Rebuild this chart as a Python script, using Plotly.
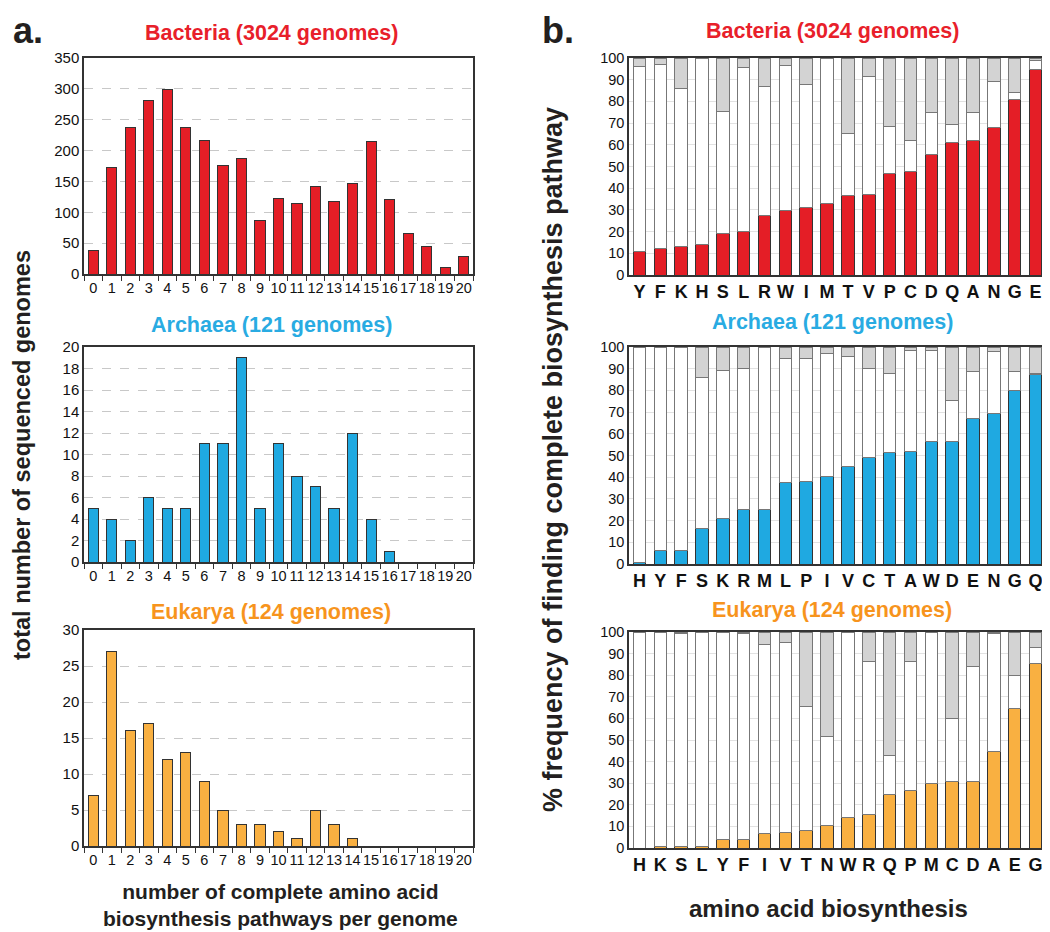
import plotly.graph_objects as go

# ---------------- data ----------------
n_pathways = [str(i) for i in range(21)]
bac_counts = [38, 172, 238, 281, 299, 238, 217, 176, 187, 87, 123, 115, 142, 118, 146, 214, 121, 66, 45, 10, 29]
arc_counts = [5, 4, 2, 6, 5, 5, 11, 11, 19, 5, 11, 8, 7, 5, 12, 4, 1, 0, 0, 0, 0]
euk_counts = [7, 27, 16, 17, 12, 13, 9, 5, 3, 3, 2, 1, 5, 3, 1, 0, 0, 0, 0, 0, 0]

bac_aa = list("YFKHSLRWIMTVPCDQANGE")
bac_complete = [11, 12, 13, 14, 19, 20, 27.5, 29.5, 31, 33, 36.5, 37, 47, 47.5, 55.5, 61, 62, 68, 81, 94.5]
bac_cum_partial = [96, 97, 86, 100, 75.5, 95.5, 87, 96.5, 88, 100, 65, 91.5, 68.5, 62, 75, 69.5, 75, 89, 84, 99]

arc_aa = list("HYFSKRMLPIVCTAWDENGQ")
arc_complete = [0.5, 6, 6, 16.5, 21, 25, 25, 37.5, 38, 40.5, 45, 49, 51.5, 52, 56.5, 56.5, 67, 69.5, 80, 87.5]
arc_cum_partial = [100, 100, 100, 86, 89, 90, 100, 94.5, 94.5, 97, 95.5, 90, 88, 98.5, 98.5, 75.5, 88.5, 98, 88.5, 88]

euk_aa = list("HKSLYFIVTNWRQPMCDAEG")
euk_complete = [0, 0.5, 0.5, 0.5, 4, 4, 6.5, 7, 8, 10.5, 14, 15.5, 25, 26.5, 30, 31, 31, 44.5, 64.5, 85.5]
euk_cum_partial = [100, 100, 99.5, 100, 100, 99.5, 94, 95, 65.5, 51.5, 100, 86.5, 43, 86.5, 100, 60, 84, 99.5, 80, 93]

RED = "#e41e26"
BLUE = "#1fa9e1"
ORANGE = "#f9b041"
RED_T = "#e8202a"
BLUE_T = "#29abe2"
ORANGE_T = "#f7941d"
FONT = "Liberation Sans, Arial, sans-serif"

# the page has an 8px body margin: size the figure so it fits the window exactly
OFF = 8
W, H = 1050 - OFF, 932 - OFF


def px_x(p):
    return (p - OFF) / W


def px_y(p):
    return 1 - (p - OFF) / H


fig = go.Figure()

left_panels = [
    (bac_counts, RED, (58, 274), 350, 50),
    (arc_counts, BLUE, (347, 562), 20, 2),
    (euk_counts, ORANGE, (630, 846), 30, 5),
]
right_panels = [
    (bac_aa, bac_complete, bac_cum_partial, RED, (58, 275)),
    (arc_aa, arc_complete, arc_cum_partial, BLUE, (347, 564)),
    (euk_aa, euk_complete, euk_cum_partial, ORANGE, (632, 848)),
]

axis_idx = 1
for counts, col, (t, b), ymax, dt in left_panels:
    sfx = "" if axis_idx == 1 else str(axis_idx)
    lw = [1 if v > 0 else 0 for v in counts]
    fig.add_trace(go.Bar(x=n_pathways, y=counts, marker=dict(color=col, line=dict(color="#333333", width=lw)),
                         xaxis="x" + sfx, yaxis="y" + sfx, width=0.55, showlegend=False))
    fig.layout["xaxis" + sfx] = dict(domain=[px_x(84), px_x(473)], anchor="y" + sfx, type="category",
                                     automargin=False,
                                     tickmode="array", tickvals=n_pathways, ticktext=n_pathways, tickangle=0,
                                     showline=True, linecolor="#333333", linewidth=1.5, mirror=True,
                                     ticks="outside", tickson="boundaries", ticklen=5, tickcolor="#333333",
                                     tickfont=dict(family=FONT, size=14.5, color="#111111"), showgrid=False)
    fig.layout["yaxis" + sfx] = dict(domain=[px_y(b), px_y(t)], anchor="x" + sfx, range=[0, ymax], dtick=dt,
                                     automargin=False,
                                     showline=True, linecolor="#333333", linewidth=1.5, mirror=True,
                                     ticks="", tickfont=dict(family=FONT, size=15, color="#111111"),
                                     showgrid=True, gridcolor="#c8c8c8", griddash="dash", gridwidth=1,
                                     zeroline=False)
    axis_idx += 1

for aa, comp, cum, col, (t, b) in right_panels:
    sfx = str(axis_idx)
    partial = [c - a for a, c in zip(comp, cum)]
    absent = [100 - c for c in cum]
    common = dict(xaxis="x" + sfx, yaxis="y" + sfx, width=0.6, showlegend=False)
    fig.add_trace(go.Bar(x=aa, y=comp, marker=dict(color=col, line=dict(color="#333333", width=1)), **common))
    fig.add_trace(go.Bar(x=aa, y=partial, marker=dict(color="#ffffff", line=dict(color="#777777", width=1)), **common))
    fig.add_trace(go.Bar(x=aa, y=absent, marker=dict(color="#d3d3d3", line=dict(color="#777777", width=1)), **common))
    fig.layout["xaxis" + sfx] = dict(domain=[px_x(629), px_x(1046)], anchor="y" + sfx, type="category",
                                     automargin=False,
                                     tickmode="array", tickvals=aa, ticktext=["<b>%s</b>" % a for a in aa],
                                     tickangle=0,
                                     showline=True, linecolor="#333333", linewidth=1.5, mirror=True,
                                     ticks="", tickfont=dict(family=FONT, size=18, color="#111111"),
                                     showgrid=False)
    fig.layout["yaxis" + sfx] = dict(domain=[px_y(b), px_y(t)], anchor="x" + sfx, range=[0, 100], dtick=10,
                                     automargin=False,
                                     showline=True, linecolor="#333333", linewidth=1.5, mirror=True,
                                     ticks="", tickfont=dict(family=FONT, size=14.5, color="#111111"),
                                     showgrid=True, gridcolor="#e2e2e2", gridwidth=1, zeroline=False)
    axis_idx += 1

ann = []


def add_text(text, x, y, size, color="#231f20", bold=True, angle=0, yanchor="middle"):
    ann.append(dict(text=("<b>%s</b>" % text) if bold else text, x=px_x(x), y=px_y(y), xref="paper", yref="paper",
                    showarrow=False, textangle=angle, xanchor="center", yanchor=yanchor,
                    font=dict(family=FONT, size=size, color=color)))


add_text("a.", 28, OFF, 36, yanchor="top")
add_text("b.", 558, OFF, 36, yanchor="top")
add_text("Bacteria (3024 genomes)", 271, 33, 21.5, RED_T)
add_text("Archaea (121 genomes)", 271, 325, 21.5, BLUE_T)
add_text("Eukarya (124 genomes)", 271, 612, 21.5, ORANGE_T)
add_text("Bacteria (3024 genomes)", 832, 31, 21.5, RED_T)
add_text("Archaea (121 genomes)", 832, 322, 21.5, BLUE_T)
add_text("Eukarya (124 genomes)", 832, 610, 21.5, ORANGE_T)
add_text("total number of sequenced genomes", 22, 455, 23.5, angle=-90)
add_text("% frequency of finding complete biosynthesis pathway", 553, 460, 27, angle=-90)
add_text("number of complete amino acid<br>biosynthesis pathways per genome", 280, 905, 21)
add_text("amino acid biosynthesis", 828, 908, 24)

fig.update_layout(width=W, height=H, margin=dict(l=0, r=0, t=0, b=0, autoexpand=False), barmode="stack",
                  paper_bgcolor="white", plot_bgcolor="white", annotations=ann,
                  font=dict(family=FONT))

fig.write_html("out.html")
